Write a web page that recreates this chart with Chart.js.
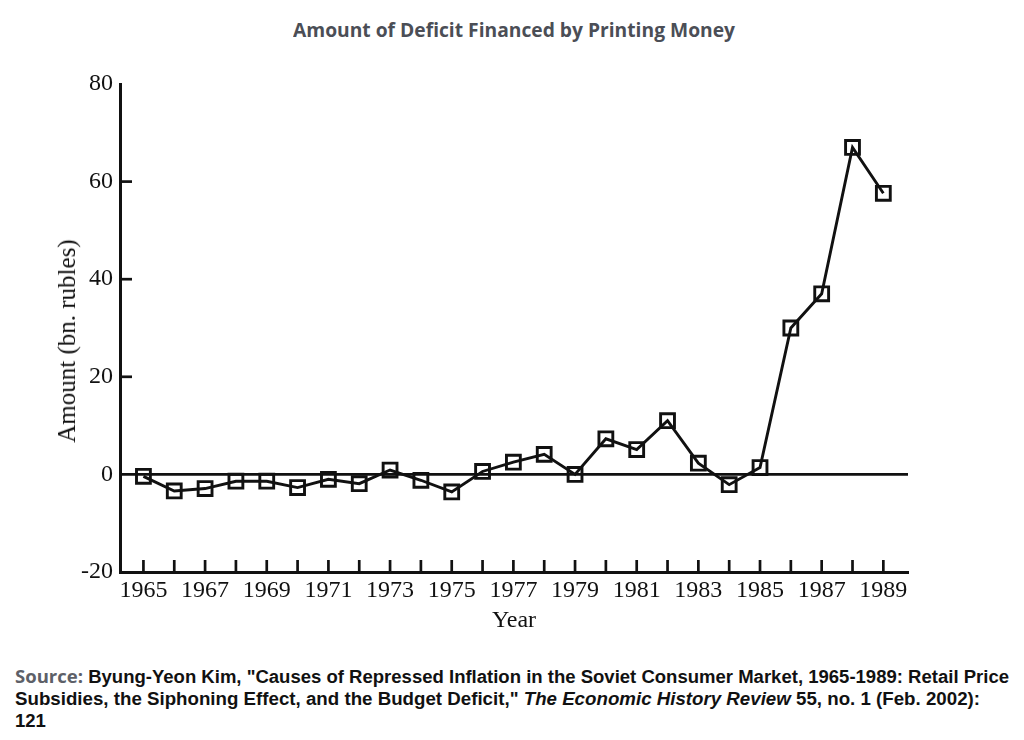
<!DOCTYPE html>
<html>
<head>
<meta charset="utf-8">
<script src="https://cdn.jsdelivr.net/npm/chart.js@4.4.0/dist/chart.umd.min.js"></script>
<style>
  html, body { margin: 0; padding: 0; background: #fff; }
  body { width: 1024px; height: 740px; position: relative; overflow: hidden; }
  #title { position: absolute; left: 293px; top: 18px; font: 700 20px "Open Sans", sans-serif; line-height: 24px; color: #4b4e56; white-space: nowrap; transform-origin: 0 50%; display: inline-block; }
  #wrap { position: absolute; left: 0; top: 0; width: 1024px; height: 650px; }
  #ytitle { position: absolute; left: 67px; top: 341px; font: 25px "Liberation Serif", serif; color: #111; white-space: nowrap; transform: translate(-50%, -50%) rotate(-90deg); }
  #source { position: absolute; left: 15px; top: 665px; font: 700 17.5px "Liberation Sans", Arial, sans-serif; line-height: 22px; color: #111; }
  #source .ln { display: block; white-space: nowrap; transform-origin: 0 50%; width: max-content; }
  #source .lbl { font-family: "Open Sans", sans-serif; color: #5d6068; }
</style>
</head>
<body>
<div id="title">Amount of Deficit Financed by Printing Money</div>
<div id="wrap"><canvas id="c" width="1024" height="650"></canvas></div>
<div id="ytitle">Amount (bn. rubles)</div>
<div id="source">
  <span class="ln" id="l1"><span class="lbl">Source:</span> Byung-Yeon Kim, "Causes of Repressed Inflation in the Soviet Consumer Market, 1965-1989: Retail Price</span>
  <span class="ln" id="l2">Subsidies, the Siphoning Effect, and the Budget Deficit," <i>The Economic History Review</i> 55, no. 1 (Feb. 2002):</span>
  <span class="ln" id="l3">121</span>
</div>
<script>
// ---- data ----
const years = [1965, 1966, 1967, 1968, 1969, 1970, 1971, 1972, 1973, 1974, 1975, 1976, 1977,
               1978, 1979, 1980, 1981, 1982, 1983, 1984, 1985, 1986, 1987, 1988, 1989];
const amounts = [-0.4, -3.4, -2.9, -1.4, -1.4, -2.7, -1.0, -1.9, 0.9, -1.2, -3.6, 0.6, 2.5,
                 4.1, 0.0, 7.3, 5.1, 11.0, 2.3, -2.1, 1.4, 30.0, 37.0, 67.0, 57.6];
const xLabelYears = [1965, 1967, 1969, 1971, 1973, 1975, 1977, 1979, 1981, 1983, 1985, 1987, 1989];
const yTicks = [-20, 0, 20, 40, 60, 80];
const yInnerTicks = [20, 40, 60];

// ---- fit text widths ----
function fit(el, target) {
  const w = el.getBoundingClientRect().width;
  const s = target / w;
  el.style.transform = 'scaleX(' + s + ')';
  return s;
}
fit(document.getElementById('title'), 442);
const s1 = fit(document.getElementById('l1'), 994);
fit(document.getElementById('l2'), 965);
document.getElementById('l3').style.transform = 'scaleX(' + s1 + ')';

const INK = '#111';

const axisMarks = {
  id: 'axisMarks',
  beforeDatasetsDraw(chart) {
    const { ctx, chartArea, scales: { x, y } } = chart;
    ctx.save();
    ctx.strokeStyle = INK;
    ctx.lineWidth = 2.7;
    ctx.lineCap = 'butt';
    const y0 = y.getPixelForValue(0);
    ctx.beginPath();
    ctx.moveTo(chartArea.left, y0);
    ctx.lineTo(chartArea.right, y0);
    ctx.stroke();
    years.forEach(v => {
      const px = x.getPixelForValue(v);
      ctx.beginPath();
      ctx.moveTo(px, chartArea.bottom);
      ctx.lineTo(px, chartArea.bottom - 12);
      ctx.stroke();
    });
    yInnerTicks.forEach(v => {
      const py = y.getPixelForValue(v);
      ctx.beginPath();
      ctx.moveTo(chartArea.left, py);
      ctx.lineTo(chartArea.left + 12, py);
      ctx.stroke();
    });
    ctx.restore();
  }
};

new Chart(document.getElementById('c'), {
  type: 'line',
  data: {
    datasets: [{
      data: years.map((yr, i) => ({ x: yr, y: amounts[i] })),
      borderColor: INK,
      borderWidth: 2.9,
      tension: 0,
      pointStyle: 'rect',
      pointRadius: 9.8,
      pointBorderWidth: 2.9,
      pointBorderColor: INK,
      pointBackgroundColor: 'rgba(0,0,0,0)',
      clip: false
    }]
  },
  options: {
    responsive: false,
    devicePixelRatio: 1,
    animation: false,
    layout: { padding: { top: 84, right: 116, left: 0, bottom: 0 } },
    plugins: { legend: { display: false }, tooltip: { enabled: false }, title: { display: false } },
    scales: {
      x: {
        type: 'linear',
        min: 1964.24,
        max: 1989.8,
        afterBuildTicks: s => { s.ticks = years.map(v => ({ value: v })); },
        afterFit: s => { s.height = 78; },
        grid: { display: false, drawTicks: false },
        border: { display: true, width: 3, color: INK },
        ticks: {
          autoSkip: false, maxRotation: 0, minRotation: 0, padding: 4,
          color: INK, font: { family: '"Liberation Serif", serif', size: 24 },
          callback: v => xLabelYears.includes(v) ? String(v) : ''
        },
        title: {
          display: true, text: 'Year', color: INK,
          font: { family: '"Liberation Serif", serif', size: 24 },
          padding: { top: 0, bottom: 15 }
        }
      },
      y: {
        min: -20,
        max: 80,
        afterBuildTicks: s => { s.ticks = yTicks.map(v => ({ value: v })); },
        afterFit: s => { s.width = 120; },
        grid: { display: false, drawTicks: false },
        border: { display: true, width: 3, color: INK },
        ticks: {
          padding: 7, color: INK,
          font: { family: '"Liberation Serif", serif', size: 24 },
          callback: v => String(v)
        }
      }
    }
  },
  plugins: [axisMarks]
});
</script>
</body>
</html>
